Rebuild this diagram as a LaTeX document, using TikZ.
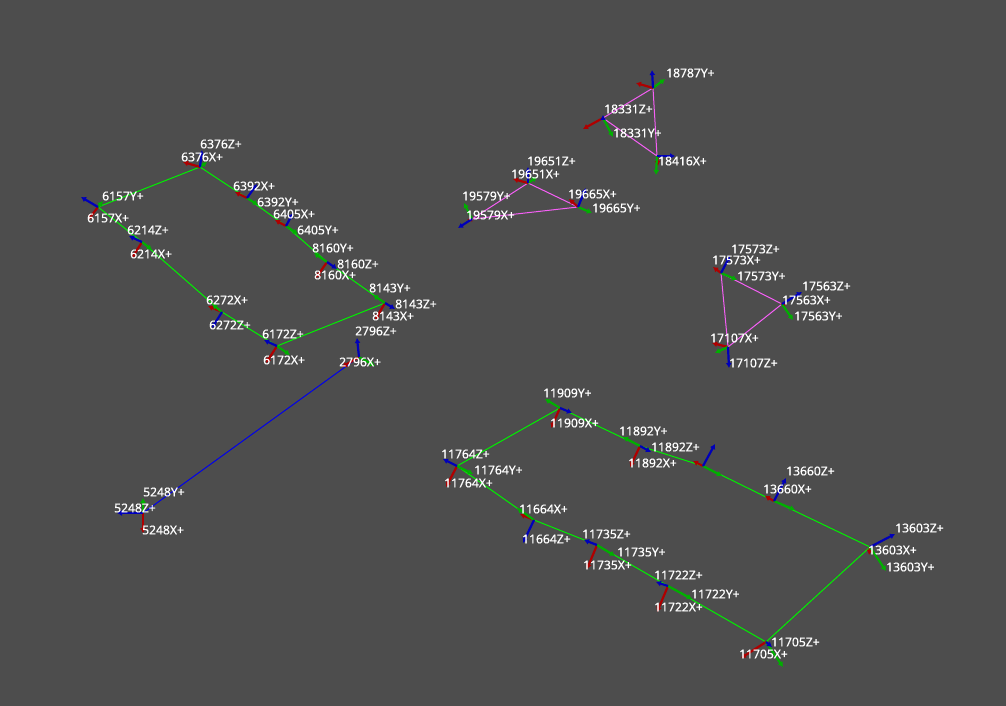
\documentclass[tikz,border=0pt]{standalone}
\usepackage{fontspec}
\newfontfamily\tagfont[FakeBold=0.5]{Noto Sans}
\usetikzlibrary{arrows.meta}
\definecolor{bgGray}{RGB}{77,77,77}
\definecolor{axisRed}{RGB}{175,0,0}
\definecolor{axisGreen}{RGB}{0,175,0}
\definecolor{axisBlue}{RGB}{0,0,185}
\definecolor{linkGreen}{RGB}{0,240,0}
\definecolor{linkPink}{RGB}{245,95,245}
\definecolor{linkBlue}{RGB}{0,0,235}
\tikzset{
    xaxis/.style={axisRed, line width=2.2pt, -{Latex[length=5pt,width=6pt]}},
    yaxis/.style={axisGreen, line width=2.2pt, -{Latex[length=5pt,width=6pt]}},
    zaxis/.style={axisBlue, line width=2.2pt, -{Latex[length=5pt,width=6pt]}},
    link/.style={linkGreen, line width=1pt},
    linkP/.style={linkPink, line width=1pt},
    linkB/.style={linkBlue, line width=1pt},
    tag/.style={text=white, anchor=west, inner sep=0pt, font=\tagfont\fontsize{12.1}{12}\selectfont}
}
\newcommand{\frameaxes}[5]{
    \coordinate (f#1) at (#2);
    \coordinate (f#1x) at (#3);
    \coordinate (f#1y) at (#4);
    \coordinate (f#1z) at (#5);
}
\newcommand{\drawaxes}[1]{
    \draw[xaxis] (f#1) -- (f#1x);
    \draw[yaxis] (f#1) -- (f#1y);
    \draw[zaxis] (f#1) -- (f#1z);
}
\begin{document}
\begin{tikzpicture}[x=1pt,y=-1pt]
    \fill[bgGray] (0,0) rectangle (1006,706);
    \useasboundingbox (0,0) rectangle (1006,706);

    % left loop
    \frameaxes{6376}{200,167}{183,162}{207,162}{202,150}
    \frameaxes{6157}{98,207}{88,220}{103,201}{81,197}
    \frameaxes{6214}{142,242}{132,258}{152,250}{129,236}
    \frameaxes{6272}{222,312}{208,306}{212,304}{212,328}
    \frameaxes{6172}{277,346}{266,363}{290,355}{264,340}
    \frameaxes{8143}{385,303}{375,320}{373,295}{395,309}
    \frameaxes{8160}{327,262}{316,278}{314,253}{337,269}
    \frameaxes{6405}{286,226}{275,220}{298,234}{293,213}
    \frameaxes{6392}{247,198}{235,192}{258,205}{257,184}
    \frameaxes{2796}{359,357}{342,367}{375,366}{357,338}
    \frameaxes{5248}{143,513}{143,533}{143,498}{117,513}

    % top triangles
    \frameaxes{18787}{653,88}{636,83}{665,79}{652,70}
    \frameaxes{18331}{603,118}{583,129}{613,137}{603,115}
    \frameaxes{18416}{657,156}{658,166}{656,175}{675,156}
    \frameaxes{19651}{528,183}{513,179}{537,177}{528,167}
    \frameaxes{19665}{578,207}{569,199}{592,213}{586,188}
    \frameaxes{19579}{472,219}{467,220}{464,203}{458,228}

    % right triangle
    \frameaxes{17573}{721,273}{713,267}{737,280}{730,256}
    \frameaxes{17563}{782,304}{780,304}{793,320}{802,292}
    \frameaxes{17107}{728,347}{712,343}{715,353}{729,368}

    % lower loop
    \frameaxes{11909}{560,408}{551,428}{545,399}{572,413}
    \frameaxes{11764}{457,466}{446,487}{473,474}{443,459}
    \frameaxes{11664}{534,520}{520,514}{517,508}{523,543}
    \frameaxes{11735}{597,545}{587,569}{615,556}{584,540}
    \frameaxes{11722}{668,586}{657,612}{692,599}{656,582}
    \frameaxes{11705}{766,642}{741,658}{783,667}{772,647}
    \frameaxes{13603}{870,547}{869,555}{886,571}{895,534}
    \frameaxes{13660}{774,501}{765,496}{795,510}{786,478}
    \frameaxes{11892b}{703,466}{693,461}{722,476}{715,444}
    \frameaxes{11892}{640,446}{630,467}{623,437}{651,452}

    % connectors
    \draw[link] (f6376) -- (f6157) -- (f6214) -- (f6272) -- (f6172) -- (f8143) -- (f8160) -- (f6405) -- (f6392) -- (f6376);
    \draw[linkB] (f5248) -- (f2796);
    \draw[linkP] (f18787) -- (f18331) -- (f18416) -- (f18787);
    \draw[linkP] (f19651) -- (f19665) -- (f19579) -- (f19651);
    \draw[linkP] (f17573) -- (f17563) -- (f17107) -- (f17573);
    \draw[link] (f11909) -- (f11764) -- (f11664) -- (f11735) -- (f11722) -- (f11705) -- (f13603) -- (f13660) -- (f11892b) -- (f11892) -- (f11909);

    % axes
    \foreach \f in {6376,6157,6214,6272,6172,8143,8160,6405,6392,2796,5248,
        18787,18331,18416,19651,19665,19579,17573,17563,17107,
        11909,11764,11664,11735,11722,11705,13603,13660,11892b,11892}
        {\drawaxes{\f}}

    % labels
    \foreach \txt/\px/\py in {6376Z+/200/144, 6376X+/181/157, 6157Y+/102/196, 6157X+/87/218,
        6214Z+/127/230, 6214X+/130/254, 6392X+/233/186, 6392Y+/257/202,
        6405X+/273/214, 6405Y+/297/230, 8160Y+/312/248, 8160Z+/337/264,
        8160X+/314/275, 8143Y+/369/288, 8143Z+/395/304, 8143X+/372/316,
        6272X+/206/300, 6272Z+/209/325, 6172Z+/262/334, 6172X+/263/360,
        2796Z+/355/331, 2796X+/339/362, 5248Y+/143/492, 5248Z+/114/508, 5248X+/142/530,
        18787Y+/666/73, 18331Z+/604/109, 18331Y+/613/133, 18416X+/658/161,
        19651Z+/527/161, 19651X+/511/174, 19579Y+/462/196, 19579X+/466/215,
        19665X+/568/194, 19665Y+/592/208,
        17573Z+/731/249, 17573X+/712/260, 17573Y+/737/276, 17563Z+/802/286,
        17563X+/782/300, 17563Y+/794/316, 17107X+/710/338, 17107Z+/729/363,
        11909Y+/543/393, 11909X+/550/423, 11892Y+/619/431, 11892Z+/651/447,
        11892X+/628/463, 13660Z+/786/471, 13660X+/763/489, 13603Z+/895/528,
        13603X+/868/550, 13603Y+/886/567, 11764Z+/441/454, 11764Y+/474/470,
        11764X+/444/483, 11664X+/519/509, 11664Z+/522/539, 11735Z+/582/534,
        11735Y+/617/552, 11735X+/583/565, 11722Z+/654/575, 11722Y+/691/594,
        11722X+/654/607, 11705Z+/771/642, 11705X+/739/654}
        {\node[tag] (l\txt) at (\px,\py) {\txt};}
\end{tikzpicture}
\end{document}
